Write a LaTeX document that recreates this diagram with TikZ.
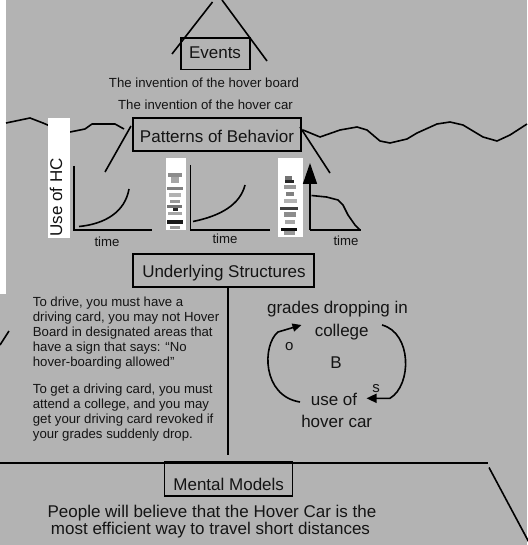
\documentclass[tikz,border=0pt]{standalone}
\usepackage{fontspec}
\setmainfont{Liberation Sans}
\usetikzlibrary{arrows.meta}
\definecolor{bg}{HTML}{B3B3B3}
\definecolor{ink}{HTML}{141414}
\begin{document}
\begin{tikzpicture}[x=1pt,y=-1pt,
  line/.style={draw=black,line width=1.6pt},
  titlebox/.style={draw=black,line width=1.6pt},
  big/.style={font=\fontsize{17}{20}\selectfont,text=ink,inner sep=0pt},
  small/.style={font=\fontsize{13.2}{15}\selectfont,text=ink,inner sep=0pt},
  pix/.style={fill=#1,draw=none}]
\useasboundingbox (0,0) rectangle (527,545);
\fill[bg] (0,0) rectangle (527,545);
\fill[white] (0,0) rectangle (6,294);

% Events roof
\draw[line] (212.5,2) -- (172,54);
\draw[line] (222,0) -- (267,61);
\draw[titlebox] (181,38) rectangle (250,69.5);
\node[big,anchor=base] (events) at (215,58.3) {Events};
\node[small,anchor=base] (ev1) at (204,87.3) {The invention of the hover board};
\node[small,anchor=base] (ev2) at (205.5,110) {The invention of the hover car};

% wavy line
\draw[line,line join=round] (6,123) -- (30,118) -- (43,123) -- (50,126);
\draw[line,line join=round] (70,132) -- (85,129) -- (92,124) -- (115,124) -- (124,129);
\draw[line,line join=round] (303,130) -- (320,137) -- (340,130) -- (357,127) -- (367,130) -- (380,141) -- (390,143) -- (407,139) -- (417,133) -- (437,124) -- (450,122) -- (463,125) -- (483,137) -- (497,141) -- (510,135) -- (527,124);

% Patterns roof
\draw[line] (131,126) -- (105,172);
\draw[line] (300,127) -- (330,173);
\draw[titlebox] (133,118) rectangle (301,151);
\node[big,anchor=base] (pob) at (217,143) {Patterns of Behavior};

% graph 1
\fill[white] (48,118) rectangle (70,238);
\node[big,rotate=90,anchor=base] (g1lab) at (62,197.5) {Use of HC};
\draw[line] (74,166) -- (74,230) -- (152,230);
\draw[line] (79,226.5) .. controls (105,224) and (125,212) .. (129,189);
\node[small,anchor=base] (t1) at (107,246) {time};

% graph 2
\fill[white] (166,158) rectangle (186,230);
\fill[pix=black!45] (168,173) rectangle (182,177);
\fill[pix=black!35] (171,177) rectangle (179,183);
\fill[pix=black!50] (167,187) rectangle (183,190);
\fill[pix=black!30] (169,193) rectangle (181,197);
\fill[pix=black!40] (170,200) rectangle (180,203);
\fill[pix=black!55] (167,205) rectangle (182,208);
\fill[pix=black!85] (173,208) rectangle (178,211);
\fill[pix=black!35] (168,212) rectangle (182,215);
\fill[pix=black!90] (167,220) rectangle (183,224);
\fill[pix=black!40] (170,226) rectangle (180,229);
\draw[line] (190.5,165) -- (190.5,230) -- (270,230);
\draw[line] (193,221.5) .. controls (220,216) and (240,205) .. (245,185);
\node[small,anchor=base] (t2) at (225,243.3) {time};

% graph 3
\fill[white] (278,158) rectangle (303,237);
\fill[pix=black!55] (285,176) rectangle (292,180);
\fill[pix=black!85] (285,180) rectangle (294,183);
\fill[pix=black!40] (284,185) rectangle (296,189);
\fill[pix=black!50] (286,192) rectangle (294,196);
\fill[pix=black!30] (284,199) rectangle (297,203);
\fill[pix=black!75] (280,207) rectangle (298,210);
\fill[pix=black!45] (284,212) rectangle (296,217);
\fill[pix=black!35] (285,220) rectangle (295,224);
\fill[pix=black!95] (281,228) rectangle (297,231);
\fill[pix=black!40] (284,231) rectangle (295,235);
\coordinate (ytip) at (310,163);
\draw[line,-{Triangle[length=21pt,width=14pt]}] (310,230) -- (ytip);
\draw[line] (310,230) -- (361,230);
\draw[line,line join=round] (311.5,195.5) -- (326.5,197) -- (338,200) -- (343,205) -- (348,215) -- (355,225) -- (360,230);
\node[small,anchor=base] (t3) at (346,245) {time};

% Underlying structures
\draw[titlebox] (133,254) rectangle (314,287);
\node[big,anchor=base] (us) at (224,277) {Underlying Structures};
\coordinate (vtop) at (228,287);
\coordinate (vbot) at (228,455);
\draw[line] (vtop) -- (vbot);
\draw[line] (0,345) -- (9,331);

\node[small,anchor=base west,align=left] (p1) at (32.7,366.7) {To drive, you must have a\\driving card, you may not Hover\\Board in designated areas that\\have a sign that says: “No\\hover-boarding allowed”};
\node[small,anchor=base west,align=left] (p2) at (32.7,438.3) {To get a driving card, you must\\attend a college, and you may\\get your driving card revoked if\\your grades suddenly drop.};

% loop
\node[big,anchor=base] (gd) at (337.5,313.3) {grades dropping in};
\node[big,anchor=base] (col) at (341.7,336) {college};
\node[big,anchor=base] (B) at (336,368.7) {B};
\node[big,anchor=base] (use) at (334,405) {use of};
\node[big,anchor=base] (hc) at (336.7,427.7) {hover car};
\node[font=\fontsize{15}{18}\selectfont,text=ink,inner sep=0pt,anchor=base] (o) at (289.3,350) {o};
\node[font=\fontsize{15}{18}\selectfont,text=ink,inner sep=0pt,anchor=base] (s) at (376,392.7) {s};
\coordinate (la) at (300,402);
\coordinate (lb) at (301.5,325);
\draw[line,-{Triangle[length=9pt,width=8pt]}] (la) .. controls (262,396) and (262,345) .. (278,332) -- (lb);
\coordinate (ra) at (382,325);
\coordinate (rb) at (366.5,398.3);
\draw[line,-{Triangle[length=10pt,width=9pt]}] (ra) .. controls (412,333) and (412,385) .. (390,398.3) -- (rb);

% mental models
\draw[line] (0,462.7) -- (487.7,462.7);
\draw[line] (489,467.5) -- (532,548);
\draw[titlebox] (164.5,462) rectangle (292.5,496);
\node[big,anchor=base] (mm) at (228.7,490) {Mental Models};
\node[big,anchor=base] (m1) at (212,517.3) {People will believe that the Hover Car is the};
\node[big,anchor=base] (m2) at (210.5,534.3) {most efficient way to travel short distances};
\end{tikzpicture}
\end{document}
